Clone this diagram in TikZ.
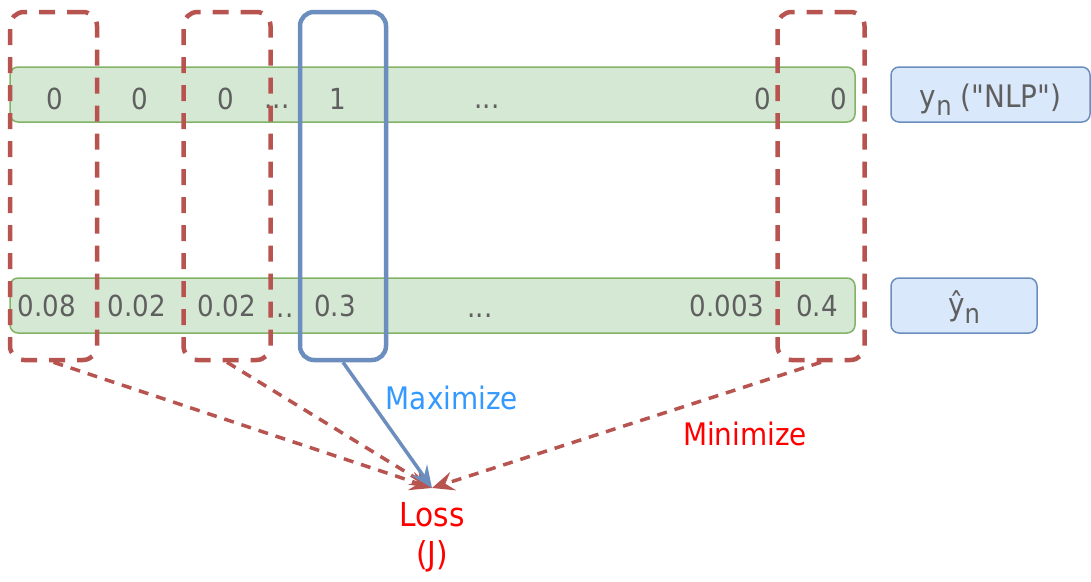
\documentclass[tikz,border=0pt]{standalone}
\usepackage{fontspec}
\setmainfont{DejaVu Sans}[FakeStretch=0.9]
\newfontfamily\labfont{DejaVu Sans}[FakeStretch=0.9]
\usetikzlibrary{arrows.meta}
\definecolor{rdash}{HTML}{B85450}
\definecolor{gfill}{HTML}{D5E8D4}
\definecolor{gline}{HTML}{82B366}
\definecolor{bfill}{HTML}{DAE8FC}
\definecolor{bline}{HTML}{6C8EBF}
\definecolor{txt}{HTML}{5F5F5F}
\definecolor{maxc}{HTML}{3399FF}
\definecolor{minc}{HTML}{FF0000}
\begin{document}
\begin{tikzpicture}[x=1pt,y=-1pt,
  bar/.style={draw=gline, fill=gfill, line width=1.5pt, rounded corners=8pt, inner sep=0pt, minimum width=845pt, minimum height=55pt},
  lab/.style={draw=bline, fill=bfill, line width=1.5pt, rounded corners=8pt, inner sep=0pt, minimum height=55pt, text=txt, font=\labfont\fontsize{31}{31}\selectfont},
  sel/.style={draw=rdash, line width=4.5pt, rounded corners=14pt, dash pattern=on 16pt off 12pt, inner sep=0pt, minimum width=87pt, minimum height=348pt},
  hit/.style={draw=bline, line width=4.5pt, rounded corners=14pt, inner sep=0pt, minimum width=86pt, minimum height=348pt},
  val/.style={text=txt, font=\fontsize{29}{29}\selectfont, inner sep=0pt},
  redarr/.style={draw=rdash, line width=3.5pt, dash pattern=on 10pt off 8pt, -{Stealth[length=22pt,width=19pt,inset=8pt]}},
  bluearr/.style={draw=bline, line width=3.5pt, -{Stealth[length=22pt,width=19pt,inset=8pt]}},
  note/.style={font=\fontsize{31}{31}\selectfont, inner sep=0pt}
]
\useasboundingbox (0,0) rectangle (1091,581);

% bars
\node[bar] (ybar) at (432.5,94.5) {};
\node[bar] (pbar) at (432.5,305.5) {};

% top values
\node[val] (v1) at (55,99) {0};
\node[val] (v2) at (140,99) {0};
\node[val] (v3) at (226,99) {0};
\node[val, anchor=base] (v4) at (277,108) {...};
\node[val] (v5) at (338,99) {1};
\node[val, anchor=base] (v6) at (487,108) {...};
\node[val] (v7) at (763,99) {0};
\node[val] (v8) at (839,99) {0};

% bottom values
\node[val] (w1) at (47,306) {0.08};
\node[val] (w2) at (137,306) {0.02};
\node[val] (w3) at (227,306) {0.02};
\node[val, anchor=base] (w4) at (285,317) {..};
\node[val] (w5) at (335,306) {0.3};
\node[val, anchor=base] (w6) at (480,317) {...};
\node[val] (w7) at (727,306) {0.003};
\node[val] (w8) at (817,306) {0.4};

% side labels
\node[lab, minimum width=199pt, text height=27pt, text depth=2pt] (ylab) at (990.5,94.5)
  {y\raisebox{-8pt}{\fontsize{27}{27}\selectfont n} ("NLP")};
\node[lab, minimum width=146pt, text height=21pt, text depth=2pt] (plab) at (964,305.5)
  {ŷ\raisebox{-8pt}{\fontsize{27}{27}\selectfont n}};

% selection boxes
\node[sel] (s1) at (53.5,186) {};
\node[sel] (s2) at (227,186) {};
\node[hit] (h) at (343,186) {};
\node[sel] (s3) at (821,186) {};

% loss
\coordinate (tip) at (432,488);
\node[note, text=minc, align=center, font=\fontsize{33}{39}\selectfont] (loss) at (432,537) {Loss\\(J)};

\draw[redarr] (s1.south) -- (tip);
\draw[redarr] (s2.south) -- (tip);
\draw[redarr] (s3.south) -- (tip);
\draw[bluearr] (h.south) -- (tip);

\node[note, text=maxc] (maxl) at (452,398) {Maximize};
\node[note, text=minc] (minl) at (745,434) {Minimize};
\end{tikzpicture}
\end{document}
